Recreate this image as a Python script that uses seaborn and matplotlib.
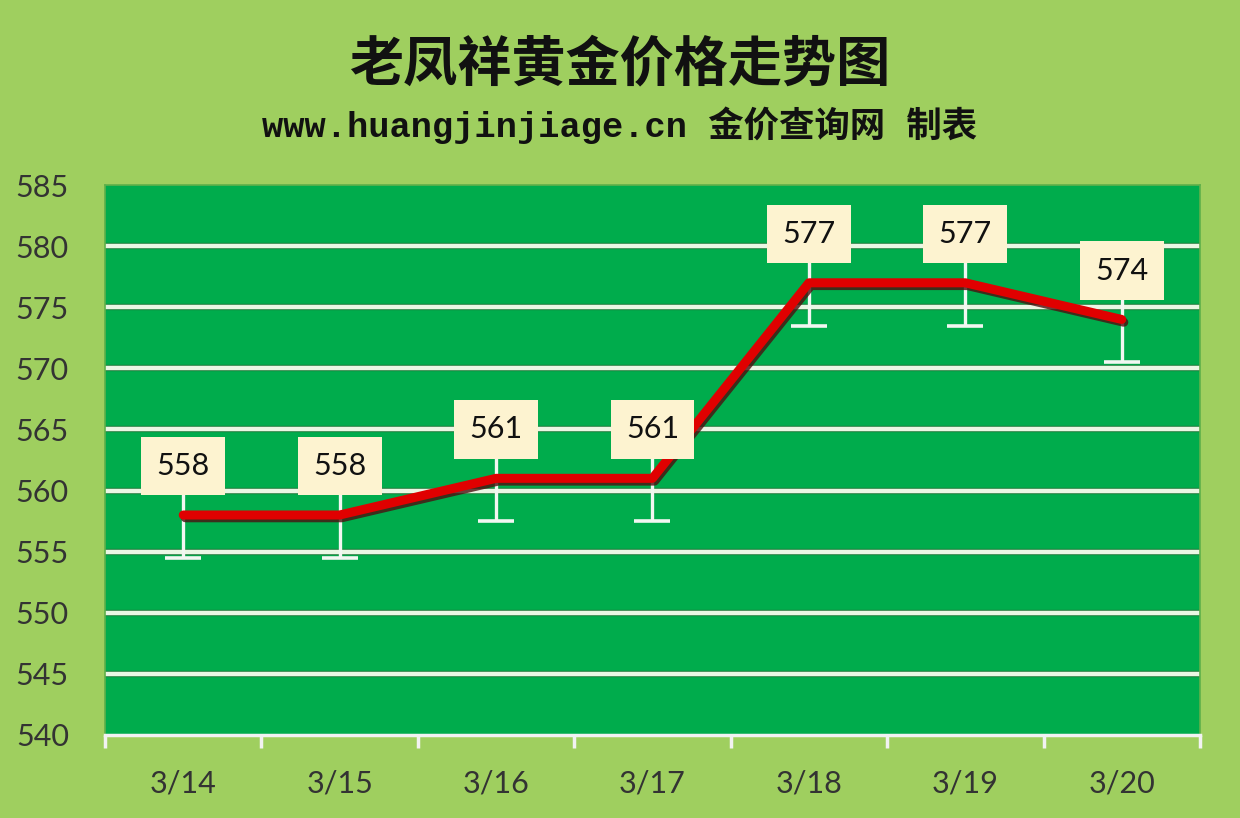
import numpy as np
import matplotlib
matplotlib.use('Agg')
import matplotlib.pyplot as plt
import matplotlib.patheffects as pe
import seaborn as sns

# data
dates = ['3/14', '3/15', '3/16', '3/17', '3/18', '3/19', '3/20']
prices = [558, 558, 561, 561, 577, 577, 574]
err_low = [3.5, 3.5, 3.5, 3.5, 3.5, 3.5, 3.5]
err_high = [3.5, 3.5, 3.5, 3.5, 3.5, 3.5, 3.5]
y_ticks = [540, 545, 550, 555, 560, 565, 570, 575, 580, 585]

sns.set_theme(style='white')
plt.rcParams['font.family'] = ['Lato', 'Noto Sans CJK SC', 'DejaVu Sans']

fig_bg = '#9FCF5F'
plot_bg = '#00AC4C'

fig = plt.figure(figsize=(12.4, 8.18), dpi=100, facecolor=fig_bg)
ax = fig.add_axes([0.0847, 0.1015, 0.883, 0.6723])
ax.set_facecolor(plot_bg)

x = np.arange(len(dates))

# gridlines
for yv in y_ticks[1:-1]:
    ax.axhline(yv, color='#EAF7E4', lw=3.2, zorder=1,
               path_effects=[pe.Stroke(linewidth=4.6, foreground='#1E7A3A'), pe.Normal()])

# error bars
ax.errorbar(x, prices, yerr=[err_low, err_high], fmt='none', ecolor='#F2F7F2',
            elinewidth=2.4, capsize=13, capthick=2.6, zorder=2)

# price line with shadow
sns.lineplot(x=x, y=prices, ax=ax, color='#E00000', lw=6.5, zorder=3,
             solid_capstyle='round', solid_joinstyle='round',
             path_effects=[pe.SimpleLineShadow(offset=(1.5, -2), shadow_color='#4A1010', alpha=0.8),
                           pe.Normal()])

# data labels
for xi, v in zip(x, prices):
    ax.text(xi, v + 4, str(v), ha='center', va='center', fontsize=22,
            color='#111111', zorder=5,
            bbox=dict(boxstyle='square,pad=0.5', fc='#FDF3D0', ec='none'))

ax.set_xlim(-0.5, len(dates) - 0.5)
ax.set_ylim(540, 585)
ax.set_yticks(y_ticks)
ax.set_yticklabels([str(t) for t in y_ticks], fontsize=22, color='#333333')
ax.set_xticks(x)
ax.set_xticklabels(dates, fontsize=22, color='#333333')
ax.set_xticks(np.arange(-0.5, len(dates), 1), minor=True)
ax.tick_params(axis='y', length=0, pad=26)
ax.tick_params(axis='x', which='major', length=0, pad=25)
ax.tick_params(axis='x', which='minor', bottom=True, length=9, width=2.5,
               color='#F2F2F2', direction='out')
ax.set_xlabel('')
ax.set_ylabel('')

for side in ['top', 'right', 'left']:
    ax.spines[side].set_color('#5FB04A')
    ax.spines[side].set_linewidth(1.2)
ax.spines['bottom'].set_color('#F2F2F2')
ax.spines['bottom'].set_linewidth(2.5)

fig.text(0.5, 0.92, '老凤祥黄金价格走势图', ha='center', va='center', fontsize=39,
         fontweight='bold', color='#111111', family=['Noto Sans CJK SC', 'DejaVu Sans'])
fig.text(0.5, 0.847, 'www.huangjinjiage.cn 金价查询网 制表', ha='center', va='center',
         fontsize=25.5, fontweight='bold', color='#111111',
         family=['Liberation Mono', 'Noto Sans CJK SC', 'DejaVu Sans'])

fig.savefig('out.png', dpi=100, facecolor=fig_bg)
